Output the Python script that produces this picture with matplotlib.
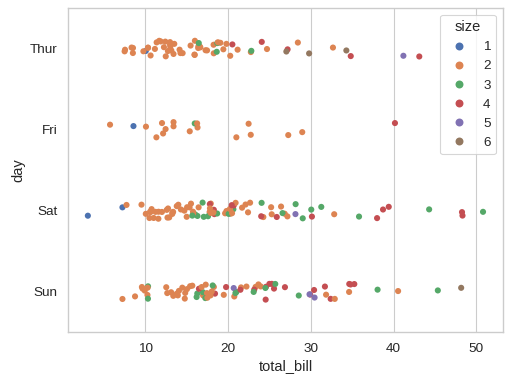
import numpy as np
import pandas as pd
import matplotlib
matplotlib.use('Agg')
import matplotlib.pyplot as plt
import seaborn as sns

# tips data: total bill, party size and day, in original row order
total_bill = [
    16.99, 10.34, 21.01, 23.68, 24.59, 25.29, 8.77, 26.88, 15.04, 14.78, 10.27, 35.26, 15.42, 18.43, 14.83, 21.58, 10.33, 16.29, 16.97,
    20.65, 17.92, 20.29, 15.77, 39.42, 19.82, 17.81, 13.37, 12.69, 21.7, 19.65, 9.55, 18.35, 15.06, 20.69, 17.78, 24.06, 16.31, 16.93, 18.69, 31.27, 16.04,
    17.46, 13.94, 9.68, 30.4, 18.29, 22.23, 32.4, 28.55, 18.04, 12.54, 10.29, 34.81, 9.94, 25.56, 19.49,
    38.01, 26.41, 11.24, 48.27, 20.29, 13.81, 11.02, 18.29, 17.59, 20.08, 16.45, 3.07, 20.23, 15.01, 12.02, 17.07, 26.86, 25.28, 14.73, 10.51, 17.92,
    27.2, 22.76, 17.29, 19.44, 16.66, 10.07, 32.68, 15.98, 34.83, 13.03, 18.28, 24.71, 21.16,
    28.97, 22.49, 5.75, 16.32, 22.75, 40.17, 27.28, 12.03, 21.01, 12.46, 11.35, 15.38,
    44.3, 22.42, 20.92, 15.36, 20.49, 25.21, 18.24, 14.31, 14.0, 7.25,
    38.07, 23.95, 25.71, 17.31, 29.93,
    10.65, 12.43, 24.08, 11.69, 13.42, 14.26, 15.95, 12.48, 29.8, 8.52, 14.52, 11.38, 22.82, 19.08, 20.27, 11.17, 12.26, 18.26, 8.51, 10.33,
    14.15, 16.0, 13.16, 17.47, 34.3, 41.19, 27.05, 16.43, 8.35, 18.64, 11.87, 9.78, 7.51,
    14.07, 13.13, 17.26, 24.55, 19.77, 29.85, 48.17, 25.0, 13.39, 16.49, 21.5, 12.66, 16.21, 13.81, 17.51, 24.52, 20.76, 31.71,
    10.59, 10.63, 50.81, 15.81,
    7.25, 31.85, 16.82, 32.9, 17.89, 14.48, 9.6, 34.63, 34.65, 23.33, 45.35, 23.17, 40.55, 20.69, 20.9, 30.46, 18.15, 23.1, 15.69,
    19.81, 28.44, 15.48, 16.58, 7.56, 10.34, 43.11, 13.0, 13.51, 18.71, 12.74, 13.0, 16.4, 20.53, 16.47,
    26.59, 38.73, 24.27, 12.76, 30.06, 25.89, 48.33, 13.27, 28.17, 12.9, 28.15, 11.59, 7.74, 30.14,
    12.16, 13.42, 8.58, 15.98, 13.42, 16.27, 10.09,
    20.45, 13.28, 22.12, 24.01, 15.69, 11.61, 10.77, 15.53, 10.07, 12.6, 32.83, 35.83, 29.03, 27.18, 22.67, 17.82,
    18.78,
]
size = [
    2, 3, 3, 2, 4, 4, 2, 4, 2, 2, 2, 4, 2, 4, 2, 2, 3, 3, 3,
    3, 2, 2, 2, 4, 2, 4, 2, 2, 2, 2, 2, 4, 2, 4, 2, 3, 3, 3, 3, 3, 3,
    2, 2, 2, 4, 2, 2, 4, 3, 2, 2, 2, 4, 2, 4, 2,
    4, 2, 2, 4, 2, 2, 2, 4, 3, 3, 2, 1, 2, 2, 2, 3, 2, 2, 2, 2, 2,
    4, 2, 2, 2, 2, 1, 2, 2, 4, 2, 2, 2, 2,
    2, 2, 2, 2, 2, 4, 2, 2, 2, 2, 2, 2,
    3, 2, 2, 2, 2, 2, 2, 2, 2, 1,
    3, 2, 3, 2, 4,
    2, 2, 4, 2, 2, 2, 2, 2, 6, 2, 2, 2, 3, 2, 2, 2, 2, 2, 2, 2,
    2, 2, 2, 2, 6, 5, 6, 2, 2, 3, 2, 2, 2,
    2, 2, 3, 4, 4, 5, 6, 4, 2, 4, 4, 2, 3, 2, 2, 3, 2, 4,
    2, 2, 3, 2,
    2, 2, 2, 2, 2, 2, 2, 2, 4, 2, 3, 4, 2, 5, 3, 5, 3, 3, 2,
    2, 2, 2, 2, 2, 2, 4, 2, 2, 3, 2, 2, 2, 4, 3,
    3, 4, 2, 2, 3, 4, 4, 2, 3, 2, 5, 2, 2, 4,
    2, 2, 1, 3, 2, 2, 2,
    4, 2, 2, 4, 3, 2, 2, 2, 2, 2, 2, 3, 3, 2, 2, 2,
    2,
]
day = (["Sun"] * 19 + ["Sat"] * 22 + ["Sun"] * 15 + ["Sat"] * 21 + ["Thur"] * 13
       + ["Fri"] * 12 + ["Sat"] * 10 + ["Sun"] * 5 + ["Thur"] * 33 + ["Sun"] * 18
       + ["Sat"] * 4 + ["Sun"] * 19 + ["Thur"] * 15 + ["Sat"] * 14 + ["Fri"] * 7
       + ["Sat"] * 16 + ["Thur"] * 1)
day_order = ["Thur", "Fri", "Sat", "Sun"]
size_order = ["1", "2", "3", "4", "5", "6"]

tips = pd.DataFrame({"total_bill": total_bill, "day": day,
                     "size": [str(s) for s in size]})

sns.set_theme(style="whitegrid", font_scale=1.1)
plt.rcParams['font.family'] = ['Liberation Sans', 'DejaVu Sans']
np.random.seed(0)

fig, ax = plt.subplots(figsize=(6.4, 4.8), dpi=80)
sns.stripplot(data=tips, x="total_bill", y="day", hue="size",
              order=day_order, hue_order=size_order, palette="deep",
              jitter=True, size=5.5, ax=ax)
ax.legend(title="size", loc="upper right", markerscale=1.3)

fig.subplots_adjust(left=0.133, right=0.982, top=0.979, bottom=0.135)
plt.savefig("out.png", dpi=80)
plt.close()
